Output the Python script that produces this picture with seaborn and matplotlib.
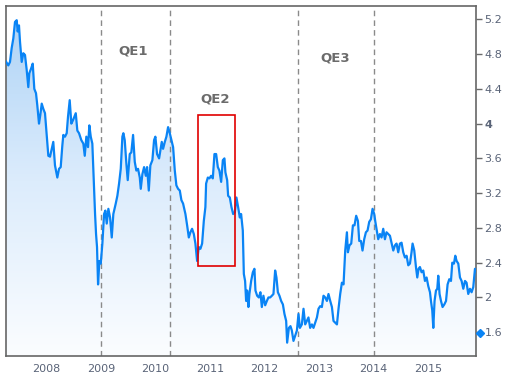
import numpy as np
import pandas as pd
import seaborn as sns
import matplotlib.pyplot as plt
from matplotlib.colors import LinearSegmentedColormap
from matplotlib.patches import Rectangle
import matplotlib.transforms as mtransforms

# 10-year yield, decimal years
years = [
    2007.255, 2007.303, 2007.334, 2007.365, 2007.395, 2007.426, 2007.457, 2007.475, 2007.499, 2007.518,
    2007.549, 2007.578, 2007.609, 2007.640, 2007.670, 2007.688, 2007.719, 2007.751, 2007.780, 2007.811,
    2007.835, 2007.866, 2007.890, 2007.916, 2007.945, 2007.976, 2008.007, 2008.037, 2008.068, 2008.099,
    2008.128, 2008.159, 2008.202, 2008.233, 2008.264, 2008.294, 2008.312, 2008.343, 2008.374, 2008.398,
    2008.429, 2008.459, 2008.490, 2008.540, 2008.569, 2008.600, 2008.642, 2008.679, 2008.705, 2008.734,
    2008.765, 2008.789, 2008.815, 2008.844, 2008.876, 2008.894, 2008.912, 2008.930, 2008.949, 2008.973,
    2008.998, 2009.028, 2009.059, 2009.083, 2009.108, 2009.138, 2009.169, 2009.200, 2009.229, 2009.273,
    2009.303, 2009.334, 2009.365, 2009.395, 2009.413, 2009.438, 2009.468, 2009.493, 2009.530, 2009.559,
    2009.591, 2009.622, 2009.651, 2009.682, 2009.714, 2009.732, 2009.762, 2009.793, 2009.824, 2009.848,
    2009.879, 2009.908, 2009.945, 2009.976, 2010.000, 2010.031, 2010.068, 2010.092, 2010.117, 2010.141,
    2010.173, 2010.202, 2010.233, 2010.264, 2010.294, 2010.325, 2010.356, 2010.385, 2010.416, 2010.448,
    2010.477, 2010.508, 2010.551, 2010.582, 2010.613, 2010.642, 2010.673, 2010.705, 2010.734, 2010.765,
    2010.796, 2010.826, 2010.857, 2010.888, 2010.917, 2010.930, 2010.962, 2010.991, 2011.022, 2011.053,
    2011.083, 2011.114, 2011.145, 2011.174, 2011.206, 2011.237, 2011.266, 2011.284, 2011.316, 2011.334,
    2011.365, 2011.395, 2011.426, 2011.457, 2011.486, 2011.517, 2011.548, 2011.572, 2011.603, 2011.622,
    2011.645, 2011.664, 2011.682, 2011.706, 2011.724, 2011.756, 2011.787, 2011.816, 2011.835, 2011.866,
    2011.897, 2011.926, 2011.952, 2011.981, 2012.013, 2012.044, 2012.073, 2012.104, 2012.136, 2012.165,
    2012.196, 2012.220, 2012.246, 2012.275, 2012.306, 2012.338, 2012.367, 2012.398, 2012.416, 2012.448,
    2012.477, 2012.502, 2012.532, 2012.563, 2012.595, 2012.624, 2012.650, 2012.686, 2012.716, 2012.747,
    2012.778, 2012.807, 2012.838, 2012.870, 2012.899, 2012.930, 2012.962, 2012.991, 2013.022, 2013.053,
    2013.083, 2013.114, 2013.145, 2013.174, 2013.206, 2013.237, 2013.266, 2013.298, 2013.329, 2013.358,
    2013.389, 2013.420, 2013.450, 2013.481, 2013.512, 2013.530, 2013.559, 2013.591, 2013.622, 2013.651,
    2013.682, 2013.714, 2013.738, 2013.769, 2013.798, 2013.829, 2013.860, 2013.890, 2013.921, 2013.952,
    2013.982, 2014.013, 2014.031, 2014.055, 2014.086, 2014.118, 2014.147, 2014.178, 2014.209, 2014.238,
    2014.270, 2014.301, 2014.330, 2014.362, 2014.393, 2014.422, 2014.453, 2014.484, 2014.514, 2014.545,
    2014.576, 2014.606, 2014.637, 2014.668, 2014.697, 2014.716, 2014.747, 2014.778, 2014.802, 2014.826,
    2014.851, 2014.881, 2014.912, 2014.943, 2014.973, 2015.004, 2015.035, 2015.053, 2015.077, 2015.096,
    2015.119, 2015.145, 2015.169, 2015.187, 2015.211, 2015.237, 2015.266, 2015.298, 2015.329, 2015.358,
    2015.389, 2015.420, 2015.444, 2015.475, 2015.499, 2015.523, 2015.554, 2015.585, 2015.615, 2015.646,
    2015.677, 2015.706, 2015.737, 2015.768, 2015.798, 2015.829, 2015.860, 2015.884,
]
yields = [
    4.72, 4.67, 4.71, 4.87, 4.98, 5.17, 5.19, 5.06, 5.13, 4.94,
    4.71, 4.81, 4.79, 4.62, 4.42, 4.58, 4.63, 4.69, 4.40, 4.35,
    4.21, 4.00, 4.10, 4.23, 4.17, 4.12, 3.87, 3.63, 3.62, 3.71,
    3.79, 3.52, 3.38, 3.48, 3.50, 3.75, 3.87, 3.85, 3.89, 4.08,
    4.27, 4.00, 4.04, 4.12, 3.92, 3.89, 3.81, 3.77, 3.63, 3.85,
    3.73, 3.98, 3.85, 3.77, 3.23, 2.96, 2.73, 2.58, 2.15, 2.42,
    2.39, 2.62, 2.96, 3.00, 2.85, 3.02, 2.92, 2.69, 2.96, 3.08,
    3.17, 3.31, 3.48, 3.85, 3.89, 3.81, 3.54, 3.35, 3.65, 3.67,
    3.87, 3.56, 3.46, 3.48, 3.38, 3.25, 3.42, 3.50, 3.40, 3.50,
    3.23, 3.52, 3.58, 3.81, 3.85, 3.65, 3.60, 3.69, 3.79, 3.71,
    3.79, 3.85, 3.96, 3.89, 3.81, 3.73, 3.46, 3.29, 3.25, 3.23,
    3.12, 3.08, 2.96, 2.83, 2.69, 2.75, 2.79, 2.73, 2.62, 2.42,
    2.58, 2.56, 2.62, 2.88, 3.04, 3.31, 3.38, 3.37, 3.40, 3.37,
    3.65, 3.65, 3.50, 3.46, 3.33, 3.58, 3.60, 3.44, 3.35, 3.17,
    3.15, 3.04, 2.96, 2.98, 3.15, 3.04, 2.92, 2.96, 2.77, 2.27,
    2.19, 1.96, 2.08, 1.89, 2.04, 2.19, 2.29, 2.33, 2.08, 2.02,
    2.00, 2.06, 1.89, 2.02, 1.91, 1.96, 2.00, 2.00, 2.02, 2.04,
    2.31, 2.23, 2.06, 2.02, 1.96, 1.92, 1.81, 1.73, 1.48, 1.65,
    1.67, 1.62, 1.50, 1.56, 1.62, 1.81, 1.65, 1.69, 1.87, 1.69,
    1.73, 1.77, 1.65, 1.69, 1.65, 1.71, 1.77, 1.87, 1.90, 1.89,
    2.02, 2.00, 1.96, 2.04, 1.96, 1.89, 1.73, 1.71, 1.69, 1.87,
    2.04, 2.17, 2.15, 2.54, 2.75, 2.52, 2.60, 2.62, 2.83, 2.83,
    2.94, 2.88, 2.65, 2.65, 2.54, 2.67, 2.75, 2.77, 2.87, 2.90,
    3.02, 2.96, 2.88, 2.79, 2.67, 2.73, 2.69, 2.79, 2.67, 2.75,
    2.73, 2.71, 2.63, 2.54, 2.60, 2.62, 2.52, 2.62, 2.63, 2.52,
    2.46, 2.48, 2.37, 2.39, 2.52, 2.62, 2.54, 2.35, 2.23, 2.33,
    2.35, 2.29, 2.31, 2.19, 2.23, 2.13, 2.06, 1.96, 1.85, 1.65,
    1.96, 2.08, 2.10, 2.25, 2.04, 1.96, 1.89, 1.92, 1.96, 2.15,
    2.21, 2.19, 2.40, 2.39, 2.48, 2.42, 2.39, 2.23, 2.19, 2.10,
    2.19, 2.17, 2.04, 2.10, 2.06, 2.12, 2.33, 2.30,
]

qe_lines = [2009.0, 2010.27, 2012.62, 2014.0]
qe_labels = ["QE1", "QE2", "QE3"]
qe_label_x = [2009.6, 2011.1, 2013.3]
qe_label_y = [4.83, 4.28, 4.75]
qe2_box = (2010.79, 2011.46, 2.36, 4.10)  # x0, x1, y0, y1
last_marker = 1.59

year_ticks = list(range(2008, 2016))
y_ticks = [5.2, 4.8, 4.4, 4.0, 3.6, 3.2, 2.8, 2.4, 2.0, 1.6]
y_tick_labels = ["5.2", "4.8", "4.4", "4", "3.6", "3.2", "2.8", "2.4", "2", "1.6"]

df = pd.DataFrame({"year": years, "yield": yields})

sns.set_style("white")
fig = plt.figure(figsize=(5.07, 3.77), dpi=100)
ax = fig.add_axes([0.0112, 0.0565, 0.9282, 0.9268])

xmin, xmax, ymin, ymax = 2007.255, 2015.884, 1.33, 5.35

# gradient fill under the line
cmap = LinearSegmentedColormap.from_list("fill", ["#fbfdff", "#dcecfc", "#acd2f6"])
grad = np.linspace(0, 1, 256).reshape(-1, 1)
img = ax.imshow(grad, cmap=cmap, aspect="auto", origin="lower",
                extent=[xmin, xmax, ymin, ymax], zorder=1)
poly = ax.fill_between(df["year"], df["yield"], ymin, color="none", lw=0)
img.set_clip_path(poly.get_paths()[0], transform=ax.transData)

sns.lineplot(data=df, x="year", y="yield", ax=ax, color="#0a84f5", lw=1.6, zorder=3)

for x in qe_lines:
    ax.axvline(x, color="#8a8a8a", lw=1, ls=(0, (4, 3)), zorder=2)

for lab, x, y in zip(qe_labels, qe_label_x, qe_label_y):
    ax.text(x, y, lab, ha="center", va="center", fontsize=9.5,
            fontweight="bold", color="#6b6b6b")

x0, x1, y0, y1 = qe2_box
ax.add_patch(Rectangle((x0, y0), x1 - x0, y1 - y0, fill=False,
                       ec="#e00000", lw=1.2, zorder=4))

trans = mtransforms.blended_transform_factory(ax.transAxes, ax.transData)
ax.plot([1.008], [last_marker], marker="D", ms=4, color="#0a84f5",
        transform=trans, clip_on=False, zorder=5)

ax.set_xlim(xmin, xmax)
ax.set_ylim(ymin, ymax)
ax.set_xticks(year_ticks)
ax.set_xticklabels([str(y) for y in year_ticks])
ax.yaxis.tick_right()
ax.set_yticks(y_ticks)
ax.set_yticklabels(y_tick_labels)
for t in ax.get_yticklabels():
    if t.get_text() == "4":
        t.set_fontweight("bold")
ax.tick_params(axis="both", labelsize=8, colors="#5a6478", length=4,
               width=1, direction="out", pad=2)
ax.tick_params(axis="x", colors="#6a6a6a", labelcolor="#5a6478")
ax.tick_params(axis="y", colors="#6a6a6a", labelcolor="#5a6478")
ax.set_xlabel("")
ax.set_ylabel("")
for s in ax.spines.values():
    s.set_color("#666666")
    s.set_linewidth(1.2)

fig.savefig("out.png", dpi=100)
